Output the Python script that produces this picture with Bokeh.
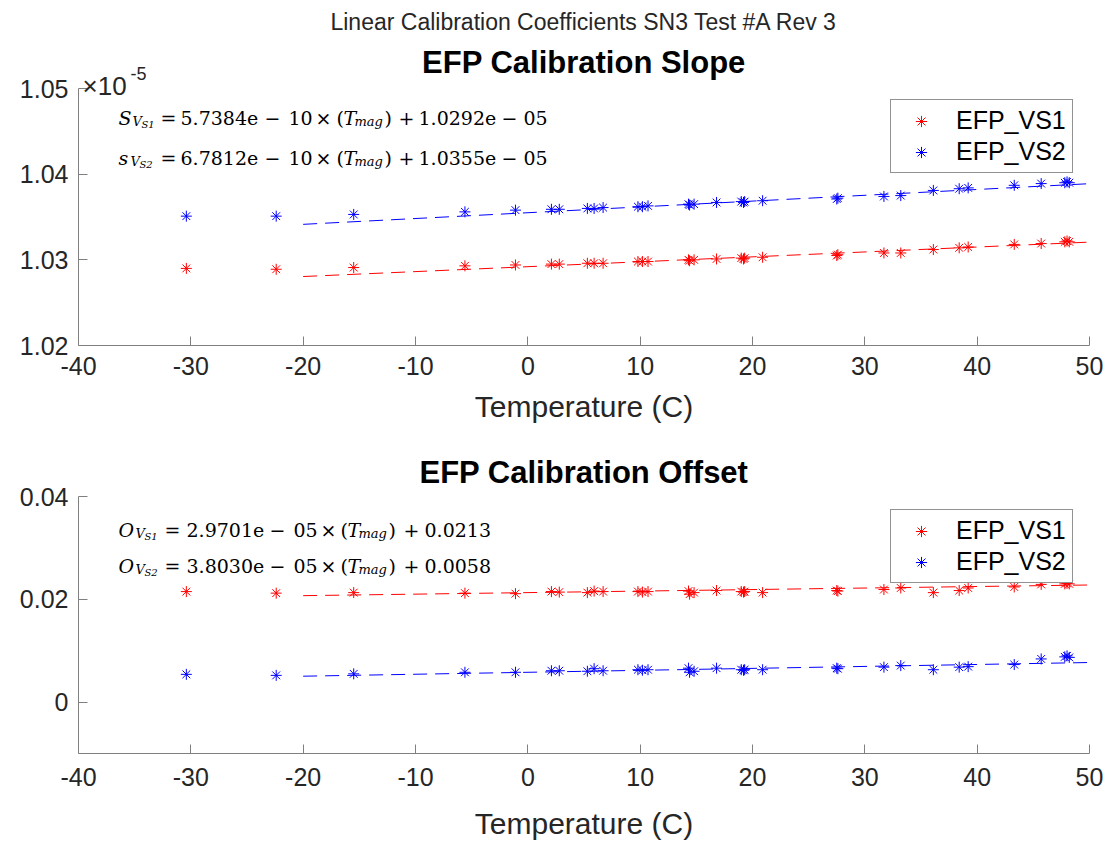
from bokeh.plotting import figure
from bokeh.models import Range1d, FixedTicker, CustomJSTickFormatter, Label, Title
from bokeh.layouts import column
from bokeh.embed import file_html
from bokeh.resources import INLINE

# ---------------- data ----------------
temps = [-30.4, -22.4, -15.5, -5.6, -1.1, 2.1, 2.8, 5.3, 5.9, 6.7, 9.8, 10.2, 10.7,
         14.3, 14.4, 14.8, 16.8, 19.0, 19.2, 19.3, 20.9, 27.5, 27.6, 31.7, 33.2,
         36.1, 38.4, 39.2, 43.3, 45.7, 47.8, 48.0, 48.2]

# slope values in units of 1e-5
slope_vs1 = [1.0290, 1.0289, 1.0291, 1.0293, 1.0294, 1.0295, 1.0295, 1.0296, 1.0296, 1.0296,
             1.0298, 1.0298, 1.0298, 1.0300, 1.0299, 1.0300, 1.0301, 1.0302, 1.0301, 1.0302,
             1.0303, 1.0305, 1.0306, 1.0308, 1.0308, 1.0312, 1.0314, 1.0315, 1.0318, 1.0319,
             1.0321, 1.0322, 1.0321]
slope_vs2 = [1.0351, 1.0351, 1.0353, 1.0356, 1.0358, 1.0359, 1.0359, 1.0360, 1.0360, 1.0361,
             1.0362, 1.0362, 1.0363, 1.0365, 1.0364, 1.0365, 1.0367, 1.0368, 1.0367, 1.0368,
             1.0369, 1.0371, 1.0372, 1.0374, 1.0375, 1.0381, 1.0383, 1.0384, 1.0387, 1.0389,
             1.0390, 1.0391, 1.0390]

offset_vs1 = [0.0215, 0.0212, 0.0213, 0.0212, 0.0211, 0.0215, 0.0214, 0.0213, 0.0216, 0.0215,
              0.0215, 0.0214, 0.0215, 0.0216, 0.0210, 0.0213, 0.0217, 0.0215, 0.0214, 0.0215,
              0.0213, 0.0217, 0.0216, 0.0219, 0.0222, 0.0213, 0.0217, 0.0222, 0.0224, 0.0229,
              0.0230, 0.0231, 0.0230]
offset_vs2 = [0.0054, 0.0052, 0.0055, 0.0058, 0.0058, 0.0061, 0.0061, 0.0060, 0.0065, 0.0061,
              0.0063, 0.0062, 0.0063, 0.0066, 0.0058, 0.0060, 0.0066, 0.0063, 0.0062, 0.0063,
              0.0063, 0.0066, 0.0065, 0.0068, 0.0071, 0.0063, 0.0068, 0.0069, 0.0073, 0.0084,
              0.0088, 0.0090, 0.0087]

# linear fit coefficients (slope, intercept) as printed on the chart
slope_fit_vs1 = (5.7384e-10, 1.0292e-05)
slope_fit_vs2 = (6.7812e-10, 1.0355e-05)
offset_fit_vs1 = (2.9701e-05, 0.0213)
offset_fit_vs2 = (3.8030e-05, 0.0058)
fit_temps = [-20, 50]

x_ticks = [-40, -30, -20, -10, 0, 10, 20, 30, 40, 50]
slope_ticks = [1.02, 1.03, 1.04, 1.05]
offset_ticks = [0, 0.02, 0.04]

SANS = "Liberation Sans"
SERIF = "DejaVu Serif"
RED = "#ff0000"
BLUE = "#0000ff"
AX = "#808080"
TXT = "#262626"


def make_fig(height, top_b, bottom_b, yr, ybounds, yticks, fmt, lab_standoff, ax_standoff):
    p = figure(width=1111, height=height, x_range=Range1d(-40, 50), y_range=Range1d(*yr),
               output_backend="svg", toolbar_location=None, title=None,
               min_border_left=78, min_border_right=22,
               min_border_top=top_b, min_border_bottom=bottom_b)
    p.grid.visible = False
    p.outline_line_color = None
    p.background_fill_color = "white"
    p.border_fill_color = "white"
    p.xaxis.ticker = FixedTicker(ticks=x_ticks)
    p.xaxis.formatter = CustomJSTickFormatter(code="return tick.toString();")
    p.yaxis.ticker = FixedTicker(ticks=yticks)
    p.yaxis.formatter = CustomJSTickFormatter(code=fmt)
    p.yaxis.bounds = ybounds
    for ax in (p.xaxis, p.yaxis):
        ax.axis_line_color = AX
        ax.major_tick_line_color = AX
        ax.major_tick_in = 9
        ax.major_tick_out = 0
        ax.minor_tick_line_color = None
        ax.major_label_text_font = SANS
        ax.major_label_text_font_size = "25px"
        ax.major_label_text_color = TXT
    p.xaxis.major_label_standoff = lab_standoff
    p.yaxis.major_label_standoff = 10
    p.xaxis.axis_label = "Temperature (C)"
    p.xaxis.axis_label_text_font = SANS
    p.xaxis.axis_label_text_font_size = "30px"
    p.xaxis.axis_label_text_font_style = "normal"
    p.xaxis.axis_label_text_color = TXT
    p.xaxis.axis_label_standoff = ax_standoff
    return p


def style_legend(p, loc):
    lg = p.legend[0]
    lg.location = loc
    lg.label_text_font = SANS
    lg.label_text_font_size = "25px"
    lg.label_text_color = "black"
    lg.border_line_color = TXT
    lg.border_line_width = 1
    lg.background_fill_color = "white"
    lg.background_fill_alpha = 1
    lg.padding = 6
    lg.spacing = 2
    lg.glyph_width = 48
    lg.glyph_height = 28
    lg.label_height = 28
    lg.label_standoff = 11
    lg.margin = 0


SIZES = {"m": ("19px", "normal", 0), "i": ("19px", "italic", 0),
         "si": ("13px", "italic", -4), "ss": ("10px", "italic", -7)}


def draw_eq(p, x0, y0, tokens):
    for text, kind, dx in tokens:
        size, style, dy = SIZES[kind]
        p.add_layout(Label(x=x0 + dx, y=y0 + dy, x_units="screen", y_units="screen",
                           text=text, text_font=SERIF, text_font_size=size,
                           text_font_style=style, text_color="black",
                           text_baseline="alphabetic", text_align="left"))


# ---------------- top: slope ----------------
# frame extends above the 1.05 tick so the subtitle and multiplier sit inside it
top_extra = 48 * (0.03 / 257)
p1 = make_fig(440, 40, 95, (1.02, 1.05 + top_extra), (1.02, 1.05), slope_ticks,
              "return tick.toFixed(2);", 11, 12)
p1.add_layout(Title(text="Linear Calibration Coefficients SN3 Test #A Rev 3", align="center",
                    text_font=SANS, text_font_size="23px", text_font_style="normal",
                    text_color=TXT, standoff=11), "above")
p1.add_layout(Label(x=505.5, y=283, x_units="screen", y_units="screen",
                    text="EFP Calibration Slope", text_font=SANS, text_font_size="31px",
                    text_font_style="bold", text_color="black",
                    text_align="center", text_baseline="middle"))

p1.scatter(temps, slope_vs1, marker="asterisk", size=11, line_color=RED, line_width=1,
           legend_label="EFP_VS1")
p1.scatter(temps, slope_vs2, marker="asterisk", size=11, line_color=BLUE, line_width=1,
           legend_label="EFP_VS2")
p1.line(fit_temps, [(slope_fit_vs1[0] * t + slope_fit_vs1[1]) * 1e5 for t in fit_temps],
        line_color=RED, line_dash="14 8", line_width=1)
p1.line(fit_temps, [(slope_fit_vs2[0] * t + slope_fit_vs2[1]) * 1e5 for t in fit_temps],
        line_color=BLUE, line_dash="14 8", line_width=1)
style_legend(p1, (812, 172))

# x10^-5 multiplier
p1.add_layout(Label(x=4, y=260, x_units="screen", y_units="screen", text="×10",
                    text_font=SANS, text_font_size="26px", text_color=TXT,
                    text_baseline="alphabetic"))
p1.add_layout(Label(x=52, y=272, x_units="screen", y_units="screen", text="-5",
                    text_font=SANS, text_font_size="18px", text_color=TXT,
                    text_baseline="alphabetic"))

draw_eq(p1, 40, 228, [("S", "i", 0), ("V", "si", 14), ("S1", "ss", 23), ("=", "m", 42),
                      ("5.7384e", "m", 62), ("−", "m", 146), ("10", "m", 170), ("×", "m", 197),
                      ("(", "m", 218), ("T", "i", 225), ("mag", "si", 236), (")", "m", 266),
                      ("+", "m", 280), ("1.0292e", "m", 300), ("−", "m", 383), ("05", "m", 405)])
draw_eq(p1, 40, 188, [("s", "i", 0), ("V", "si", 12), ("S2", "ss", 21), ("=", "m", 42),
                      ("6.7812e", "m", 62), ("−", "m", 146), ("10", "m", 170), ("×", "m", 197),
                      ("(", "m", 218), ("T", "i", 225), ("mag", "si", 236), (")", "m", 266),
                      ("+", "m", 280), ("1.0355e", "m", 300), ("−", "m", 383), ("05", "m", 405)])

# ---------------- bottom: offset ----------------
p2 = make_fig(402, 56, 89, (-0.01, 0.04), (-0.01, 0.04), offset_ticks,
              "return Math.abs(tick) < 1e-12 ? '0' : tick.toFixed(2);", 14, 18)
p2.add_layout(Title(text="EFP Calibration Offset", align="center", text_font=SANS,
                    text_font_size="31px", text_font_style="bold", text_color="black",
                    standoff=13), "above")

p2.scatter(temps, offset_vs1, marker="asterisk", size=11, line_color=RED, line_width=1,
           legend_label="EFP_VS1")
p2.scatter(temps, offset_vs2, marker="asterisk", size=11, line_color=BLUE, line_width=1,
           legend_label="EFP_VS2")
p2.line(fit_temps, [offset_fit_vs1[0] * t + offset_fit_vs1[1] for t in fit_temps],
        line_color=RED, line_dash="14 8", line_width=1)
p2.line(fit_temps, [offset_fit_vs2[0] * t + offset_fit_vs2[1] for t in fit_temps],
        line_color=BLUE, line_dash="14 8", line_width=1)
style_legend(p2, (812, 170))

draw_eq(p2, 40, 224, [("O", "i", 0), ("V", "si", 17), ("S1", "ss", 26), ("=", "m", 46),
                      ("2.9701e", "m", 68), ("−", "m", 151), ("05", "m", 175), ("×", "m", 202),
                      ("(", "m", 222), ("T", "i", 229), ("mag", "si", 240), (")", "m", 270),
                      ("+", "m", 285), ("0.0213", "m", 306)])
draw_eq(p2, 40, 188, [("O", "i", 0), ("V", "si", 17), ("S2", "ss", 26), ("=", "m", 46),
                      ("3.8030e", "m", 68), ("−", "m", 151), ("05", "m", 175), ("×", "m", 202),
                      ("(", "m", 222), ("T", "i", 229), ("mag", "si", 240), (")", "m", 270),
                      ("+", "m", 285), ("0.0058", "m", 306)])

layout = column(p1, p2, spacing=0)
open("out.html", "w").write(file_html(layout, INLINE))
